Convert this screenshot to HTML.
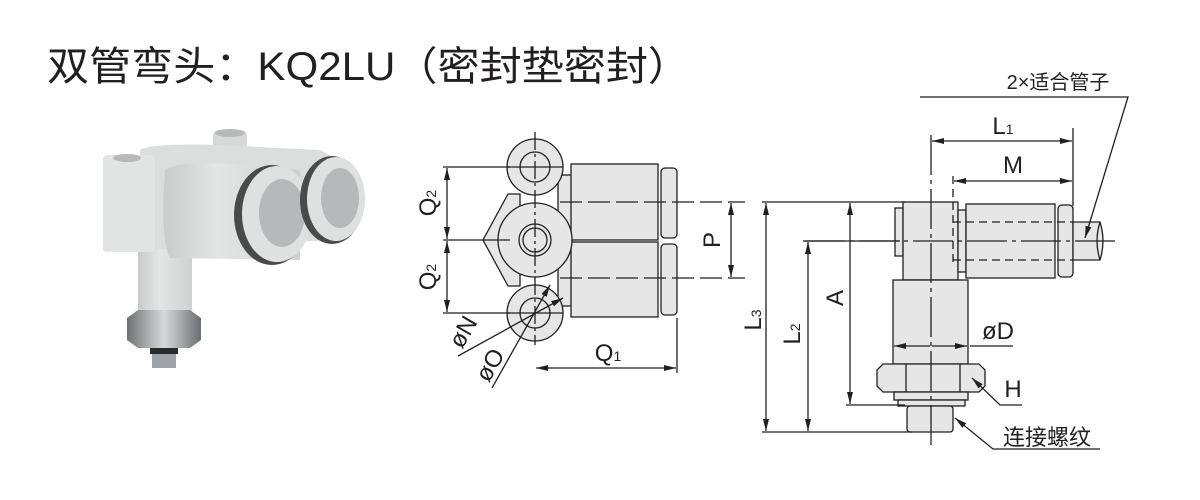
<!DOCTYPE html>
<html><head><meta charset="utf-8"><style>
html,body{margin:0;padding:0;background:#fff;}
svg{display:block;}
text{font-family:"Liberation Sans","Noto Sans CJK SC",sans-serif;fill:#231f20;}
</style></head><body>
<svg width="1200" height="500" viewBox="0 0 1200 500" xmlns="http://www.w3.org/2000/svg">
<defs>
<marker id="a" viewBox="0 0 12 6" refX="12" refY="3" markerWidth="12" markerHeight="6" orient="auto-start-reverse" markerUnits="userSpaceOnUse"><path d="M0,0 L12,3 L0,6 z" fill="#231f20"/></marker>
<linearGradient id="g1" x1="0" x2="1"><stop offset="0" stop-color="#c9cbcb"/><stop offset="0.4" stop-color="#e4e5e5"/><stop offset="1" stop-color="#cfd1d1"/></linearGradient>
<linearGradient id="g2" x1="0" x2="1"><stop offset="0" stop-color="#6f7274"/><stop offset="0.5" stop-color="#d8d9da"/><stop offset="1" stop-color="#6b6e70"/></linearGradient>
</defs>
<text x="47" y="80" font-size="40" textLength="643" lengthAdjust="spacingAndGlyphs">双管弯头：KQ2LU（密封垫密封）</text>

<!-- photo -->
<g>
<rect x="138" y="240" width="54" height="80" fill="url(#g1)"/>
<ellipse cx="165" cy="320" rx="27" ry="6" fill="#cfd1d1"/>
<path d="M127,318 L138,310 L190,310 L201,318 L201,340 L190,348 L138,348 L127,340 z" fill="url(#g2)"/>
<rect x="150" y="348" width="28" height="6" fill="#2a2a2a"/>
<rect x="152" y="354" width="24" height="14" fill="#a0a3a5"/>
<rect x="213" y="130" width="34" height="20" rx="6" fill="#d7d9d9"/>
<ellipse cx="230" cy="133" rx="15" ry="4" fill="#b8baba"/>
<path d="M140,150 Q150,143 220,145 L320,150 Q340,158 340,175 L330,240 L140,250 z" fill="#dcdede"/>
<rect x="103" y="155" width="52" height="97" rx="4" fill="#e2e3e3"/>
<ellipse cx="127" cy="158" rx="14" ry="4" fill="#b8baba"/>
<path d="M165,170 Q175,160 250,165 L300,170 L300,260 L170,258 Q160,240 165,170z" fill="url(#g1)"/>
<ellipse cx="272" cy="215" rx="38" ry="50" fill="#4a4a4a"/>
<ellipse cx="277" cy="214" rx="35" ry="48" fill="#dfe0e0"/>
<ellipse cx="282" cy="213" rx="23" ry="34" fill="#b6b8b9"/>
<ellipse cx="332" cy="200" rx="32" ry="44" fill="#4a4a4a"/>
<ellipse cx="336" cy="199" rx="29" ry="42" fill="#dfe0e0"/>
<ellipse cx="340" cy="198" rx="19" ry="30" fill="#b6b8b9"/>
</g>

<g stroke="#231f20" stroke-width="1.3" fill="none">
<!-- middle view -->
<g fill="#e6e6e6">
<path d="M508,194 L520,194 L520,286 L508,286 L483,240 z"/>
<rect x="558" y="175" width="14" height="131"/>
<rect x="571" y="164" width="87" height="76"/>
<rect x="571" y="242" width="87" height="75"/>
<rect x="661" y="168" width="16" height="70" rx="4"/>
<rect x="661" y="244" width="16" height="71" rx="4"/>
<circle cx="535" cy="167" r="28"/>
<circle cx="535" cy="313" r="28"/>
<circle cx="535" cy="240" r="37"/>
<circle cx="535" cy="167" r="15"/>
<circle cx="535" cy="313" r="15"/>
<circle cx="535" cy="240" r="16"/>
<circle cx="535" cy="240" r="12"/>
</g>
<line x1="535" y1="132" x2="535" y2="345" stroke-dasharray="18,4,3,4"/>
<line x1="507" y1="167" x2="563" y2="167"/>
<line x1="507" y1="313" x2="563" y2="313"/>
<line x1="560" y1="202" x2="745" y2="202" stroke-dasharray="22,6"/>
<line x1="560" y1="278" x2="745" y2="278" stroke-dasharray="22,6"/>
<line x1="443" y1="167" x2="510" y2="167"/>
<line x1="443" y1="240" x2="510" y2="240"/>
<line x1="443" y1="313" x2="510" y2="313"/>
<line x1="447" y1="168" x2="447" y2="239" marker-start="url(#a)" marker-end="url(#a)"/>
<line x1="447" y1="241" x2="447" y2="312" marker-start="url(#a)" marker-end="url(#a)"/>
<line x1="731" y1="203" x2="731" y2="277" marker-start="url(#a)" marker-end="url(#a)"/>
<line x1="677" y1="318" x2="677" y2="373"/>
<line x1="536" y1="368" x2="676" y2="368" marker-start="url(#a)" marker-end="url(#a)"/>
<line x1="458" y1="356" x2="563" y2="298" marker-end="url(#a)"/>
<line x1="492" y1="388" x2="550" y2="285" marker-end="url(#a)"/>

<!-- right view -->
<g fill="#e6e6e6">
<rect x="895" y="208" width="8" height="48"/>
<rect x="903" y="202" width="55" height="78"/>
<rect x="958" y="210" width="8" height="62"/>
<rect x="966" y="204" width="89" height="74"/>
<rect x="1058" y="205" width="15" height="72" rx="4"/>
<path d="M1073,222 L1100,222 Q1106,241 1100,260 L1073,260 z"/>
<rect x="893" y="280" width="75" height="84"/>
<path d="M883,364 L979,364 L985,370 L985,386 L979,392 L883,392 L877,386 L877,370 z"/>
<rect x="894" y="392" width="74" height="8"/>
<rect x="898" y="400" width="67" height="6"/>
<rect x="907" y="406" width="46" height="26" rx="3"/>
</g>
<line x1="906" y1="364" x2="906" y2="392"/><line x1="960" y1="364" x2="960" y2="392"/>
<path d="M1100,222 Q1094,241 1100,260"/>
<line x1="953" y1="222" x2="1073" y2="222" stroke-dasharray="8,5"/>
<line x1="953" y1="260" x2="1073" y2="260" stroke-dasharray="8,5"/>
<line x1="953" y1="176" x2="953" y2="262" stroke-dasharray="8,5"/>
<line x1="805" y1="241" x2="1115" y2="241" stroke-dasharray="40,5,4,5"/>
<line x1="931" y1="135" x2="931" y2="448" stroke-dasharray="40,5,4,5"/>
<line x1="1073" y1="128" x2="1073" y2="206"/>
<line x1="932" y1="141" x2="1072" y2="141" marker-start="url(#a)" marker-end="url(#a)"/>
<line x1="954" y1="181" x2="1072" y2="181" marker-start="url(#a)" marker-end="url(#a)"/>
<line x1="762" y1="202" x2="905" y2="202"/>
<line x1="803" y1="241" x2="900" y2="241"/>
<line x1="846" y1="405" x2="905" y2="405"/>
<line x1="762" y1="432" x2="912" y2="432"/>
<line x1="766" y1="203" x2="766" y2="431" marker-start="url(#a)" marker-end="url(#a)"/>
<line x1="808" y1="242" x2="808" y2="431" marker-start="url(#a)" marker-end="url(#a)"/>
<line x1="850" y1="203" x2="850" y2="404" marker-start="url(#a)" marker-end="url(#a)"/>
<line x1="1013" y1="346" x2="970" y2="346"/>
<line x1="894" y1="346" x2="930" y2="346" marker-start="url(#a)"/>
<line x1="932" y1="346" x2="967" y2="346" marker-end="url(#a)"/>
<polyline points="1022,405 1000,405 972,378" marker-end="url(#a)"/>
<polyline points="1100,449 993,449 955,418" marker-end="url(#a)"/>
<polyline points="920,97 1128,97 1085,238" marker-end="url(#a)"/>
</g>

<g font-size="24" text-anchor="middle">
<text x="436" y="203" transform="rotate(-90 436 203)">Q<tspan font-size="14">2</tspan></text>
<text x="436" y="277" transform="rotate(-90 436 277)">Q<tspan font-size="14">2</tspan></text>
<text x="720" y="240" transform="rotate(-90 720 240)">P</text>
<text x="608" y="361">Q<tspan font-size="14">1</tspan></text>
<text x="470" y="336" transform="rotate(-60 470 336)">øN</text>
<text x="497" y="369" transform="rotate(-60 497 369)">øO</text>
<text x="761" y="320" transform="rotate(-90 761 320)">L<tspan font-size="14">3</tspan></text>
<text x="800" y="334" transform="rotate(-90 800 334)">L<tspan font-size="14">2</tspan></text>
<text x="843" y="298" transform="rotate(-90 843 298)">A</text>
<text x="1003" y="134">L<tspan font-size="14">1</tspan></text>
<text x="1013" y="173">M</text>
<text x="998" y="339">øD</text>
<text x="1013" y="397">H</text>
<text x="1047" y="445" font-size="22">连接螺纹</text>
<text x="1058" y="89" font-size="20">2×适合管子</text>
</g>
</svg>
</body></html>
